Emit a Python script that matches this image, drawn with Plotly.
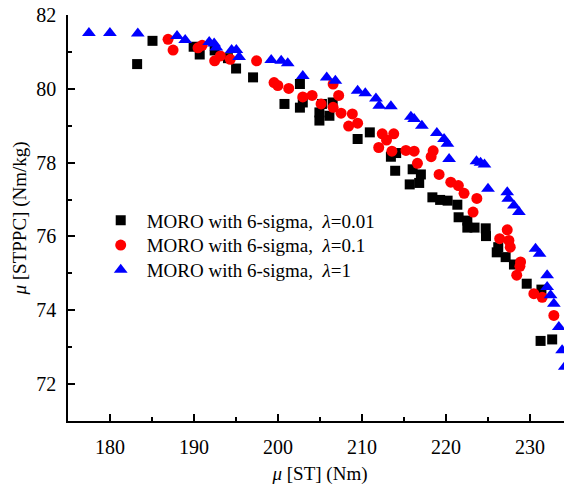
import plotly.graph_objects as go

# λ = 0.01 (black squares)
x_l001 = [183.23, 185.06, 189.96, 190.68, 192.46, 194.04, 195.01, 197.03, 202.61, 200.77,
          202.61, 202.95, 205.23, 206.51, 204.93, 206.12, 204.93, 209.48, 210.93, 213.44,
          214.07, 213.95, 216.03, 217.01, 216.81, 215.68, 218.38, 219.30, 220.19, 221.35,
          221.50, 222.54, 222.54, 223.40, 224.73, 224.76, 226.22, 226.04, 227.10, 228.09,
          229.61, 231.36, 231.26, 232.64]
y_l001 = [80.67, 81.30, 81.14, 80.93, 81.04, 80.83, 80.55, 80.31, 80.13, 79.59,
          79.49, 79.63, 79.59, 79.63, 79.36, 79.27, 79.14, 78.64, 78.82, 78.16,
          78.26, 77.78, 77.82, 77.68, 77.45, 77.41, 77.06, 76.99, 76.97, 76.86,
          76.52, 76.43, 76.24, 76.24, 76.22, 76.01, 75.71, 75.57, 75.44, 75.24,
          74.72, 74.56, 73.17, 73.21]

# λ = 0.1 (red circles)
x_l01 = [186.91, 187.51, 190.48, 190.97, 192.46, 193.14, 194.32, 197.45, 199.53, 199.98,
         201.28, 202.95, 204.06, 205.13, 206.56, 207.22, 206.56, 207.51, 208.85, 208.41,
         209.48, 212.41, 213.78, 212.92, 211.99, 213.56, 215.23, 216.21, 216.60, 218.47,
         218.23, 219.18, 220.57, 221.47, 222.15, 223.67, 223.22, 227.29, 226.39, 227.49,
         227.65, 228.88, 228.80, 228.42, 230.46, 231.45, 232.84]
y_l01 = [81.34, 81.05, 81.11, 81.18, 80.76, 80.89, 80.80, 80.76, 80.17, 80.09,
         80.01, 79.78, 79.82, 79.59, 80.13, 79.82, 79.50, 79.34, 79.32, 78.99,
         79.07, 78.78, 78.78, 78.61, 78.41, 78.31, 78.33, 78.31, 77.98, 78.32,
         78.16, 77.68, 77.47, 77.38, 77.17, 77.03, 76.66, 76.18, 75.94, 75.89,
         75.71, 75.31, 75.19, 74.95, 74.45, 74.35, 73.86]

# λ = 1 (blue triangles)
x_l1 = [177.49, 179.99, 183.31, 187.98, 188.95, 191.81, 192.40, 192.66, 194.48, 195.04,
        195.37, 199.19, 200.38, 201.16, 202.95, 205.80, 206.83, 209.48, 210.39, 211.66,
        212.05, 213.44, 215.82, 216.21, 217.13, 218.91, 219.77, 220.17, 220.37, 223.63,
        224.11, 224.58, 225.00, 227.29, 227.41, 228.09, 228.68, 230.66, 231.14, 232.04,
        232.04, 232.45, 232.84, 233.43, 233.82, 234.14]
y_l1 = [81.51, 81.51, 81.50, 81.43, 81.32, 81.27, 81.23, 81.12, 81.05, 81.05,
        80.86, 80.78, 80.76, 80.69, 80.35, 80.31, 80.22, 79.95, 79.88, 79.74,
        79.54, 79.53, 79.24, 79.18, 79.00, 78.80, 78.64, 78.51, 78.10, 78.04,
        78.00, 77.95, 77.29, 77.20, 77.02, 76.84, 76.66, 75.67, 75.53, 74.95,
        74.63, 74.41, 74.18, 73.55, 72.92, 72.47]

x_ticks = [180, 190, 200, 210, 220, 230]
y_ticks = [72, 74, 76, 78, 80, 82]

FONT = "Liberation Serif, Times New Roman, serif"

fig = go.Figure()
fig.add_trace(go.Scatter(x=x_l001, y=y_l001, mode="markers", legend="legend",
                         name="MORO with 6-sigma,&nbsp;&nbsp;<i>λ</i>=0.01",
                         marker=dict(symbol="square", size=10, color="black")))
fig.add_trace(go.Scatter(x=x_l01, y=y_l01, mode="markers", legend="legend2",
                         name="MORO with 6-sigma,&nbsp;&nbsp;<i>λ</i>=0.1",
                         marker=dict(symbol="circle", size=11, color="#ff0000")))
fig.add_trace(go.Scatter(x=x_l1, y=y_l1, mode="markers", legend="legend3",
                         name="MORO with 6-sigma,&nbsp;&nbsp;<i>λ</i>=1",
                         marker=dict(symbol="triangle-up", size=12, color="#0000ff")))

axis_common = dict(
    showline=True, linecolor="black", linewidth=1.5, mirror=False,
    showgrid=False, zeroline=False, automargin=False,
    ticks="inside", ticklen=7, tickwidth=1.5, tickcolor="black",
    tickfont=dict(family=FONT, size=20, color="black"),
    ticklabeloverflow="allow",
)

leg_common = dict(xanchor="left", yanchor="middle", x=0.053, itemwidth=42,
                  bgcolor="rgba(0,0,0,0)", font=dict(family=FONT, size=19))

# page body has an 8px margin, so the figure is 8px smaller and shifted
fig.update_layout(
    width=564, height=477,
    margin=dict(l=60, r=0, t=7, b=64),
    paper_bgcolor="white", plot_bgcolor="white",
    font=dict(family=FONT, size=19, color="black"),
    showlegend=True,
    legend=dict(y=0.494, **leg_common),
    legend2=dict(y=0.433, **leg_common),
    legend3=dict(y=0.372, **leg_common),
    xaxis=dict(range=[175, 235], tickvals=x_ticks, ticklabelstandoff=7,
               minor=dict(dtick=5, tick0=175, ticks="inside", ticklen=4, tickwidth=1.5, tickcolor="black"),
               title=dict(text="<i>μ</i> [ST] (Nm)", font=dict(family=FONT, size=19), standoff=10),
               **axis_common),
    yaxis=dict(range=[71, 82], tickvals=y_ticks, ticklabelstandoff=6,
               minor=dict(dtick=1, tick0=71, ticks="inside", ticklen=4, tickwidth=1.5, tickcolor="black"),
               title=dict(text="<i>μ</i> [STPPC] (Nm/kg)", font=dict(family=FONT, size=19), standoff=5),
               **axis_common),
)

fig.write_html("out.html")
